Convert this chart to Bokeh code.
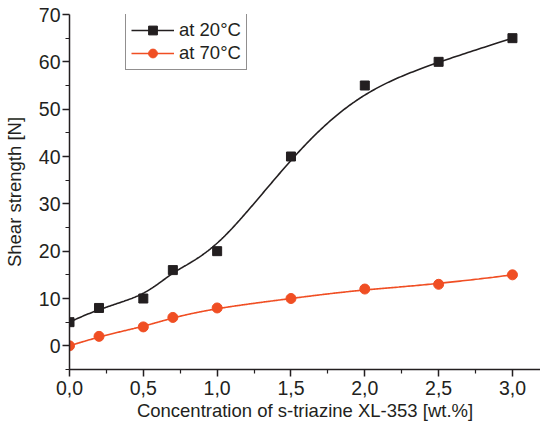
import numpy as np
from bokeh.plotting import figure
from bokeh.models import (Range1d, FixedTicker, CustomJSTickFormatter, Legend, LegendItem)
from bokeh.embed import file_html
from bokeh.resources import INLINE

conc = [0.0, 0.2, 0.5, 0.7, 1.0, 1.5, 2.0, 2.5, 3.0]
shear_20 = [5, 8, 10, 16, 20, 40, 55, 60, 65]
shear_70 = [0, 2, 4, 6, 8, 10, 12, 13, 15]
x_ticks = [0.0, 0.5, 1.0, 1.5, 2.0, 2.5, 3.0]
y_ticks = [0, 10, 20, 30, 40, 50, 60, 70]

BLACK = "#231f20"
ORANGE = "#f04e23"
FONT = "Liberation Sans"


def bspline(x, y, n=400, k=3):
    """Clamped uniform cubic B-spline with the data points as control points."""
    P = np.column_stack([np.asarray(x, float), np.asarray(y, float)])
    m = len(P)
    inner = np.arange(1, m - k)
    knots = np.concatenate([np.zeros(k + 1), inner, np.full(k + 1, m - k)]).astype(float)
    ts = np.linspace(0, m - k, n)
    ts[-1] -= 1e-9

    def basis(i, d, t):
        if d == 0:
            return 1.0 if knots[i] <= t < knots[i + 1] else 0.0
        a = 0.0
        if knots[i + d] != knots[i]:
            a = (t - knots[i]) / (knots[i + d] - knots[i]) * basis(i, d - 1, t)
        b = 0.0
        if knots[i + d + 1] != knots[i + 1]:
            b = (knots[i + d + 1] - t) / (knots[i + d + 1] - knots[i + 1]) * basis(i + 1, d - 1, t)
        return a + b

    out = np.array([[sum(basis(i, k, t) * P[i, j] for i in range(m)) for j in range(2)] for t in ts])
    return out[:, 0], out[:, 1]


p = figure(width=540, height=425, output_backend="svg", toolbar_location=None,
           x_range=Range1d(0, 3.19), y_range=Range1d(-5, 70),
           min_border_left=63, min_border_right=0, min_border_top=14, min_border_bottom=56)
p.outline_line_color = None
p.grid.visible = False
p.background_fill_color = "white"

sx, sy = bspline(conc, shear_20)
l1 = p.line(sx, sy, line_color=BLACK, line_width=1.6)
s1 = p.scatter(conc, shear_20, marker="square", size=9, fill_color=BLACK, line_color=BLACK)
tx, ty = bspline(conc, shear_70)
l2 = p.line(tx, ty, line_color=ORANGE, line_width=1.6)
s2 = p.scatter(conc, shear_70, marker="circle", size=10, fill_color=ORANGE, line_color=ORANGE)

p.xaxis.ticker = FixedTicker(ticks=x_ticks, minor_ticks=[0.25, 0.75, 1.25, 1.75, 2.25, 2.75])
p.yaxis.ticker = FixedTicker(ticks=y_ticks, minor_ticks=[-5, 5, 15, 25, 35, 45, 55, 65])
p.xaxis.formatter = CustomJSTickFormatter(code="return tick.toFixed(1).replace('.', ',');")
p.yaxis.formatter = CustomJSTickFormatter(code="return tick.toFixed(0);")

for ax in (p.xaxis[0], p.yaxis[0]):
    ax.axis_line_color = BLACK
    ax.axis_line_width = 1.5
    ax.major_tick_line_color = BLACK
    ax.major_tick_line_width = 1.5
    ax.minor_tick_line_color = BLACK
    ax.minor_tick_line_width = 1.2
    ax.major_tick_out = 7
    ax.major_tick_in = 0
    ax.minor_tick_out = 4
    ax.minor_tick_in = 0
    ax.major_label_text_font = FONT
    ax.major_label_text_font_size = "19.5px"
    ax.major_label_text_color = BLACK
    ax.axis_label_text_font = FONT
    ax.axis_label_text_font_size = "18.5px"
    ax.axis_label_text_font_style = "normal"
    ax.axis_label_text_color = BLACK

p.xaxis.axis_label = "Concentration of s-triazine XL-353 [wt.%]"
p.yaxis.axis_label = "Shear strength [N]"
p.xaxis.major_label_standoff = 4
p.xaxis.axis_label_standoff = 2
p.yaxis.major_label_standoff = 2
p.yaxis.axis_label_standoff = 11

legend = Legend(items=[LegendItem(label="at 20°C", renderers=[l1, s1]),
                       LegendItem(label="at 70°C", renderers=[l2, s2])],
                location=(56, 299))
legend.border_line_color = BLACK
legend.border_line_width = 1
legend.label_text_font = FONT
legend.label_text_font_size = "18.5px"
legend.label_text_color = BLACK
legend.glyph_width = 43
legend.glyph_height = 22
legend.label_height = 22
legend.spacing = 1
legend.padding = 5
legend.margin = 0
legend.label_standoff = 5
legend.background_fill_alpha = 1
p.add_layout(legend, "center")

open("out.html", "w").write(file_html(p, INLINE))
